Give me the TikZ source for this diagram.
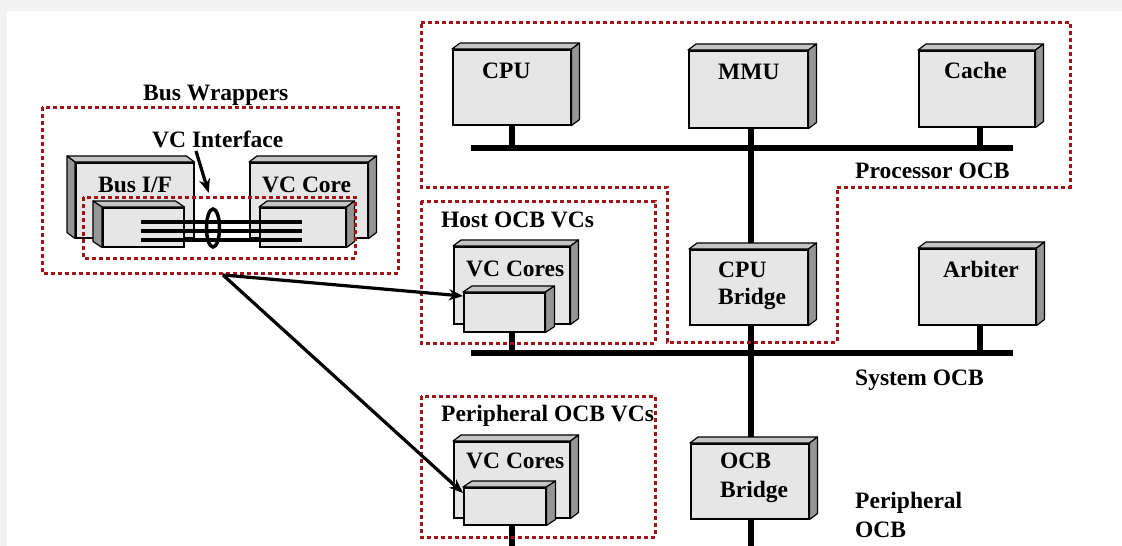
\documentclass[tikz,border=0pt]{standalone}
\usepackage{fontspec}
\setmainfont{Liberation Serif}
\usepackage{tikz}
\usetikzlibrary{arrows.meta, positioning, shapes.geometric}
\definecolor{chipfront}{RGB}{230,230,230}
\definecolor{chiptop}{RGB}{196,196,196}
\definecolor{chipside}{RGB}{150,150,150}
\definecolor{regionred}{RGB}{165,20,20}
\definecolor{pagegray}{RGB}{242,242,242}
% 3D block: name, x, y (top left), width, height, depth x, side (east/west)
\newcommand\chip[7]{%
  \node[chipbox, minimum width=#4pt, minimum height=#5pt] (#1) at (#2,#3) {};
  \draw[chipedge, fill=chiptop] (#1.north west) -- ++(#6,-6) -- ([shift={(#6,-6)}]#1.north east) -- (#1.north east) -- cycle;
  \draw[chipedge, fill=chipside] (#1.north #7) -- ++(#6,-6) -- ([shift={(#6,-6)}]#1.south #7) -- (#1.south #7) -- cycle;
}
\tikzset{
  chipbox/.style={draw=black, line width=1.5pt, fill=chipfront, inner sep=0pt, anchor=north west},
  chipedge/.style={draw=black, line width=1.2pt, line join=round},
  txt/.style={font=\bfseries\fontsize{23.5}{28}\selectfont, inner sep=0pt, anchor=base west},
  bus/.style={line width=6pt},
  wire/.style={line width=3.5pt},
  region/.style={draw=regionred, line width=3pt, dash pattern=on 4pt off 3pt},
  link/.style={line width=3.2pt, -{Stealth[length=14pt,width=11pt]}},
}
\begin{document}
\begin{tikzpicture}[x=1pt, y=-1pt]
  \useasboundingbox (0,0) rectangle (1122,546);
  \fill[pagegray] (0,0) rectangle (1122,546);
  \fill[white] (7,11) rectangle (1122,546);
  % buses
  \coordinate (pbusL) at (471,148);
  \coordinate (pbusR) at (1013,148);
  \coordinate (sbusL) at (471,353);
  \coordinate (sbusR) at (1013,353);
  \coordinate (spine) at (751,546);
  \draw[bus] (pbusL) -- (pbusR);
  \draw[bus] (sbusL) -- (sbusR);
  \draw[bus] (751,127) -- (spine);
  % processor OCB
  \chip{cpu}{452}{49}{118}{75}{8}{east}
  \chip{mmu}{688}{50}{119}{77}{8}{east}
  \chip{cache}{918}{50}{116}{76}{8}{east}
  \draw[bus] (cpu.south) -- (cpu.south |- pbusL);
  \draw[bus] ([xshift=3pt]cache.south) -- ([xshift=3pt]cache.south |- pbusL);
  \node[txt] (cpulbl) at (482,78) {CPU};
  \node[txt] (mmulbl) at (718,79) {MMU};
  \node[txt] (cachelbl) at (944,78) {Cache};
  \node[txt] (pocb) at (855,178) {Processor OCB};
  % system OCB
  \chip{cpubr}{689}{249}{118}{75}{8}{east}
  \chip{arb}{918}{248}{117}{76}{8}{east}
  \draw[bus] ([xshift=2.5pt]arb.south) -- ([xshift=2.5pt]arb.south |- sbusL);
  \node[txt] (cpubrlbl) at (718,277) {CPU};
  \node[txt] (cpubrlblb) at (718,304) {Bridge};
  \node[txt] (arblbl) at (943,277) {Arbiter};
  \node[txt] (socb) at (855,385) {System OCB};
  % host OCB VCs
  \chip{hostcore}{453}{246}{116}{77}{8}{east}
  \chip{hostfront}{463}{292}{81}{39}{9}{east}
  \draw[bus] ([xshift=7.5pt]hostfront.south) -- ([xshift=7.5pt]hostfront.south |- sbusL);
  \node[txt] (hostlbl) at (441,227) {Host OCB VCs};
  \node[txt] (hostcorelbl) at (466,276) {VC Cores};
  % peripheral OCB
  \chip{perbr}{690}{443}{118}{75}{8}{east}
  \chip{percore}{453}{441}{116}{76}{8}{east}
  \chip{perfront}{463}{487}{82}{37}{9}{east}
  \draw[bus] ([xshift=7pt]perfront.south) -- ++(0,25);
  \node[txt] (perbrlbl) at (720,468) {OCB};
  \node[txt] (perbrlblb) at (720,497) {Bridge};
  \node[txt] (perlbl) at (441,421) {Peripheral OCB VCs};
  \node[txt] (percorelbl) at (466,468) {VC Cores};
  \node[txt] (perocb) at (855,508) {Peripheral};
  \node[txt] (perocbb) at (855,537) {OCB};
  % bus wrappers
  \chip{busif}{75}{162}{118}{75}{-8}{west}
  \chip{vccore}{249}{162}{118}{75}{8}{east}
  \chip{busiffront}{102}{207}{81}{39}{-9}{west}
  \chip{vcfront}{259}{207}{86}{39}{8}{east}
  \node[txt] (buslbl) at (98,192) {Bus I/F};
  \node[txt] (vccorelbl) at (262,192) {VC Core};
  \foreach \y in {222,231,240}
    \draw[wire] (141,\y) -- (302,\y);
  \node[ellipse, draw=black, line width=3.5pt, minimum width=13pt, minimum height=38pt, inner sep=0pt] (ring) at (213,228) {};
  \node[txt] (wraplbl) at (143,100) {Bus Wrappers};
  \node[txt] (vcif) at (152,147) {VC Interface};
  \coordinate (vciftail) at (196,151);
  \draw[link, shorten >=15pt] (vciftail) -- (ring.north);
  % regions
  \draw[region] (421,22) -- (1070,22) -- (1070,187) -- (837,187) -- (837,342) -- (667,342) -- (667,187) -- (421,187) -- cycle;
  \draw[region] (421,201) rectangle (655,343);
  \draw[region] (421,396) rectangle (655,537);
  \draw[region] (42,107) rectangle (398,273);
  \draw[region] (83,197) rectangle (355,258);
  % links
  \coordinate (wraptail) at (223,275);
  \draw[link] (wraptail) -- ([yshift=-4pt]hostfront.north west);
  \draw[link] (wraptail) -- ([yshift=-6pt]perfront.north west);
\end{tikzpicture}
\end{document}
